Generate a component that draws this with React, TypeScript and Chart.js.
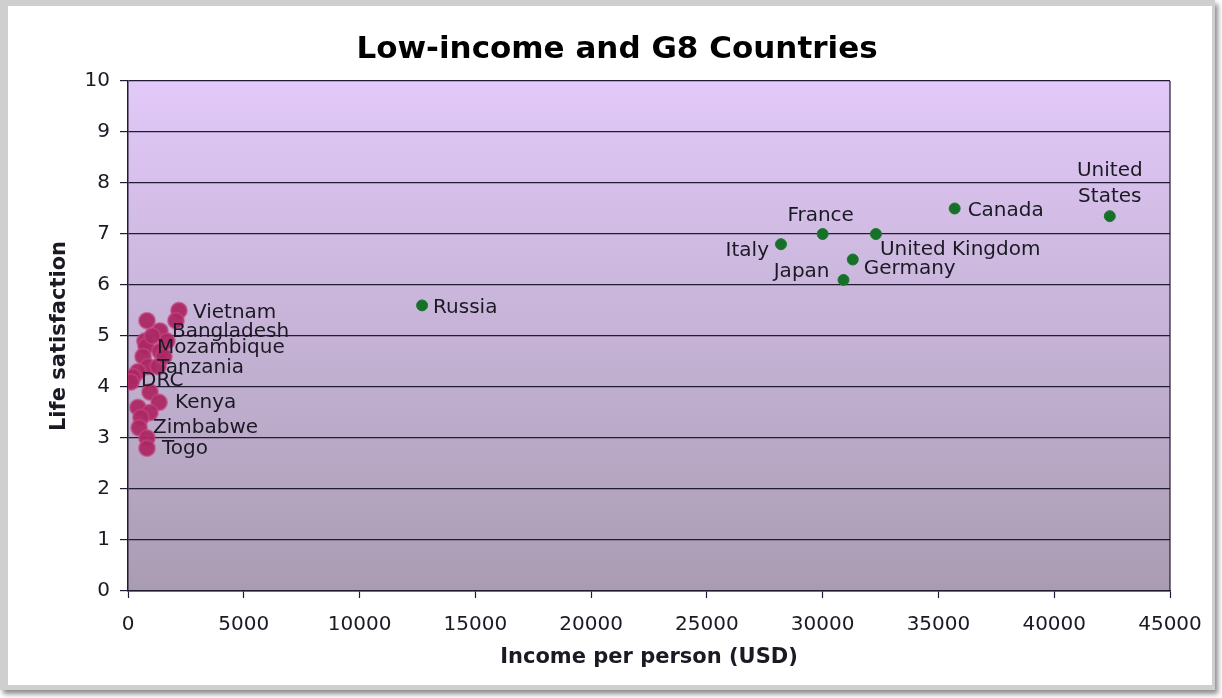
import React, { useEffect, useRef } from "react";
import { Chart, registerables } from "chart.js";

Chart.register(...registerables);

// Low-income countries: income per person (USD) and life satisfaction (0-10)
const lowIncomeNames = [
  "Vietnam", "", "", "Bangladesh", "", "", "Mozambique", "", "", "Tanzania", "",
  "", "DRC", "", "", "Kenya", "", "", "", "Zimbabwe", "", "Togo", "", "",
];
const lowIncomeIncome = [
  2200, 2070, 820, 1380, 1680, 730, 780, 1380, 650, 860, 1300,
  430, 220, 130, 950, 1340, 430, 950, 560, 480, 820, 820, 1050, 1550,
];
const lowIncomeSatisfaction = [
  5.5, 5.3, 5.3, 5.1, 4.9, 4.9, 4.8, 4.7, 4.6, 4.4, 4.4,
  4.3, 4.2, 4.1, 3.9, 3.7, 3.6, 3.5, 3.4, 3.2, 3.0, 2.8, 5.0, 4.6,
];

// G8 countries
const g8Names = ["United States", "Canada", "France", "United Kingdom", "Italy", "Germany", "Japan", "Russia"];
const g8Income = [42400, 35700, 30000, 32300, 28200, 31300, 30900, 12700];
const g8Satisfaction = [7.35, 7.5, 7.0, 7.0, 6.8, 6.5, 6.1, 5.6];

// Axis ranges
const xMin = 0;
const xMax = 45000;
const xStep = 5000;
const yMin = 0;
const yMax = 10;
const yStep = 1;

const chartTitle = "Low-income and G8 Countries";
const xTitle = "Income per person (USD)";
const yTitle = "Life satisfaction";

const FONT = '"DejaVu Sans", Verdana, sans-serif';
const INK = "#1b1a24";
const GRID = "#211b33";

// Where each country's name sits relative to its dot
type Placement = { dx: number; dy: number; align: CanvasTextAlign; lines?: string[] };
const placement: Record<string, Placement> = {
  "United States": { dx: 0, dy: -19, align: "center", lines: ["United", "States"] },
  Canada: { dx: 13, dy: 2, align: "left" },
  France: { dx: -2, dy: -18, align: "center" },
  "United Kingdom": { dx: 4, dy: 16, align: "left" },
  Italy: { dx: -12, dy: 7, align: "right" },
  Germany: { dx: 11, dy: 9, align: "left" },
  Japan: { dx: -14, dy: -8, align: "right" },
  Russia: { dx: 11, dy: 2, align: "left" },
  Vietnam: { dx: 14, dy: 2, align: "left" },
  Bangladesh: { dx: 12, dy: 1, align: "left" },
  Mozambique: { dx: 11, dy: 2, align: "left" },
  Tanzania: { dx: 9, dy: 1, align: "left" },
  DRC: { dx: 8, dy: 4, align: "left" },
  Kenya: { dx: 16, dy: 0, align: "left" },
  Zimbabwe: { dx: 14, dy: 0, align: "left" },
  Togo: { dx: 15, dy: 1, align: "left" },
};

const plotBackground = {
  id: "plotBackground",
  beforeDraw(chart: any) {
    const { ctx, chartArea: a } = chart;
    const g = ctx.createLinearGradient(0, a.top, 0, a.bottom);
    g.addColorStop(0, "#e2c9f9");
    g.addColorStop(1, "#a99cb2");
    ctx.save();
    ctx.fillStyle = g;
    ctx.fillRect(a.left, a.top, a.right - a.left, a.bottom - a.top);
    ctx.restore();
  },
  afterDraw(chart: any) {
    const { ctx, chartArea: a } = chart;
    ctx.save();
    ctx.strokeStyle = GRID;
    ctx.lineWidth = 1.2;
    ctx.beginPath();
    ctx.moveTo(a.right, a.top);
    ctx.lineTo(a.right, a.bottom);
    ctx.stroke();
    // heading above the plot
    ctx.fillStyle = "#000";
    ctx.font = `bold 31px ${FONT}`;
    ctx.textAlign = "center";
    ctx.textBaseline = "middle";
    ctx.fillText(chartTitle, chart.width / 2 + 7, 44);
    ctx.restore();
  },
};

const countryLabels = {
  id: "countryLabels",
  afterDatasetsDraw(chart: any) {
    const ctx = chart.ctx as CanvasRenderingContext2D;
    ctx.save();
    ctx.font = `20px ${FONT}`;
    ctx.fillStyle = INK;
    ctx.textBaseline = "middle";
    chart.data.datasets.forEach((ds: any, di: number) => {
      const meta = chart.getDatasetMeta(di);
      meta.data.forEach((el: any, i: number) => {
        const name = ds.names[i];
        if (!name) return;
        const p = placement[name];
        const lines = p.lines || [name];
        ctx.textAlign = p.align;
        lines.forEach((line, li) => {
          const y = el.y + p.dy - (lines.length - 1 - li) * 26;
          ctx.fillText(line, el.x + p.dx, y);
        });
      });
    });
    ctx.restore();
  },
};

export default function App() {
  const canvasRef = useRef<HTMLCanvasElement>(null);

  useEffect(() => {
    if (!canvasRef.current) return;
    const chart = new Chart(canvasRef.current, {
      type: "scatter",
      data: {
        datasets: [
          {
            label: "G8",
            names: g8Names,
            data: g8Income.map((x, i) => ({ x, y: g8Satisfaction[i] })),
            backgroundColor: "#17702a",
            borderColor: "#1f7a30",
            borderWidth: 1,
            pointRadius: 5.5,
          } as any,
          {
            label: "Low-income",
            names: lowIncomeNames,
            data: lowIncomeIncome.map((x, i) => ({ x, y: lowIncomeSatisfaction[i] })),
            backgroundColor: "rgba(172,40,100,0.95)",
            borderColor: "rgba(196,70,130,0.6)",
            borderWidth: 2,
            pointRadius: 8,
          } as any,
        ],
      },
      options: {
        responsive: false,
        animation: false,
        devicePixelRatio: 1,
        layout: { padding: { left: 0, right: 42, top: 75, bottom: 0 } },
        plugins: {
          legend: { display: false },
          tooltip: { enabled: false },
          title: { display: false },
        },
        scales: {
          x: {
            type: "linear",
            min: xMin,
            max: xMax,
            ticks: {
              stepSize: xStep,
              color: INK,
              font: { family: FONT, size: 20 },
              padding: 15,
              maxRotation: 0,
              callback: (v: number) => String(v),
            },
            grid: { drawOnChartArea: false, drawTicks: true, tickLength: 7, color: GRID, tickWidth: 1.2 },
            border: { display: true, color: GRID, width: 1.5 },
            title: {
              display: true,
              text: xTitle,
              color: INK,
              font: { family: FONT, size: 21, weight: "bold" },
              padding: { top: 0, bottom: 15 },
            },
            afterFit(scale: any) {
              scale.height = 94;
              scale.paddingLeft = 0;
              scale.paddingRight = 0;
            },
          },
          y: {
            type: "linear",
            min: yMin,
            max: yMax,
            ticks: { stepSize: yStep, color: INK, font: { family: FONT, size: 20 }, padding: 10 },
            grid: { color: GRID, lineWidth: 1.2, drawTicks: true, tickLength: 8 },
            border: { display: true, color: GRID, width: 1.5 },
            title: {
              display: true,
              text: yTitle,
              color: INK,
              font: { family: FONT, size: 21, weight: "bold" },
              padding: { top: 39, bottom: 0 },
            },
            afterFit(scale: any) {
              scale.width = 120;
            },
          },
        },
      } as any,
      plugins: [plotBackground, countryLabels],
    });
    return () => chart.destroy();
  }, []);

  return (
    <div style={{ position: "absolute", left: 0, top: 0, width: 1222, height: 698, background: "#ffffff", overflow: "hidden" }}>
      <div
        style={{
          position: "absolute",
          left: 0,
          top: 0,
          width: 1215,
          height: 690,
          background: "#cfcfcf",
          boxShadow: "3px 4px 5px rgba(0,0,0,0.45)",
        }}
      >
        <div style={{ position: "absolute", left: 8, top: 6, width: 1204, height: 679, background: "#ffffff" }}>
          <canvas ref={canvasRef} width={1204} height={679} style={{ display: "block" }} />
        </div>
      </div>
    </div>
  );
}
